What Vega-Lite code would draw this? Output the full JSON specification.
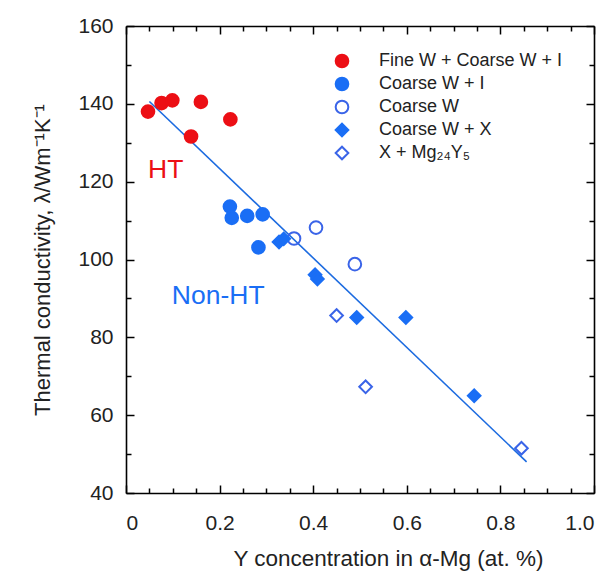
{
  "$schema": "https://vega.github.io/schema/vega-lite/v6.json",
  "autosize": {"type": "none"},
  "padding": {"left": 126, "top": 26, "right": 18, "bottom": 83},
  "width": 468,
  "height": 467,
  "background": "white",
  "config": {
    "view": {"stroke": null},
    "font": "Liberation Sans",
    "axis": {"grid": false, "labelFont": "Liberation Sans", "titleFont": "Liberation Sans", "labelFontSize": 21, "titleFontSize": 22.5, "labelColor": "#222", "titleColor": "#222", "titleFontWeight": "normal", "tickColor": "black", "domainColor": "black", "tickWidth": 1.5, "domainWidth": 1.6},
    "legend": {"labelFont": "Liberation Sans", "labelFontSize": 18, "labelColor": "#222", "labelLimit": 400}
  },
  "datasets": {
    "pts": [
      {"x": 0.047, "y": 138.0, "group": "Fine W + Coarse W + I"},
      {"x": 0.076, "y": 140.2, "group": "Fine W + Coarse W + I"},
      {"x": 0.099, "y": 140.9, "group": "Fine W + Coarse W + I"},
      {"x": 0.160, "y": 140.5, "group": "Fine W + Coarse W + I"},
      {"x": 0.139, "y": 131.6, "group": "Fine W + Coarse W + I"},
      {"x": 0.223, "y": 136.0, "group": "Fine W + Coarse W + I"},
      {"x": 0.222, "y": 113.6, "group": "Coarse W + I"},
      {"x": 0.226, "y": 110.7, "group": "Coarse W + I"},
      {"x": 0.259, "y": 111.2, "group": "Coarse W + I"},
      {"x": 0.292, "y": 111.6, "group": "Coarse W + I"},
      {"x": 0.283, "y": 103.1, "group": "Coarse W + I"},
      {"x": 0.359, "y": 105.4, "group": "Coarse W"},
      {"x": 0.406, "y": 108.2, "group": "Coarse W"},
      {"x": 0.489, "y": 98.8, "group": "Coarse W"},
      {"x": 0.327, "y": 104.5, "group": "Coarse W + X"},
      {"x": 0.337, "y": 105.3, "group": "Coarse W + X"},
      {"x": 0.404, "y": 96.1, "group": "Coarse W + X"},
      {"x": 0.409, "y": 95.0, "group": "Coarse W + X"},
      {"x": 0.493, "y": 85.1, "group": "Coarse W + X"},
      {"x": 0.598, "y": 85.1, "group": "Coarse W + X"},
      {"x": 0.744, "y": 65.0, "group": "Coarse W + X"},
      {"x": 0.450, "y": 85.6, "group": "X + Mg₂₄Y₅"},
      {"x": 0.512, "y": 67.3, "group": "X + Mg₂₄Y₅"},
      {"x": 0.845, "y": 51.5, "group": "X + Mg₂₄Y₅"}
    ],
    "fit": [
      {"x": 0.05, "y": 140.6},
      {"x": 0.856, "y": 48.0}
    ],
    "labels": [
      {"x": 0.047, "y": 123, "text": "HT", "kind": "HT"},
      {"x": 0.098, "y": 90.6, "text": "Non-HT", "kind": "Non-HT"}
    ]
  },
  "resolve": {"axis": {"x": "independent", "y": "independent"}},
  "layer": [
    {
      "data": {"name": "fit"},
      "mark": {"type": "line", "color": "#1c6be0", "strokeWidth": 1.6},
      "encoding": {
        "x": {"field": "x", "type": "quantitative", "scale": {"domain": [0, 1], "nice": false, "zero": false},
          "axis": {"orient": "bottom", "values": [0, 0.2, 0.4, 0.6, 0.8, 1.0], "labelExpr": "datum.value == 0 ? '0' : format(datum.value, '.1f')", "tickSize": -8, "labelPadding": 27, "title": "Y concentration in α-Mg (at. %)", "titlePadding": 14, "titleX": 262, "titleAlign": "center"}},
        "y": {"field": "y", "type": "quantitative", "scale": {"domain": [40, 160], "nice": false, "zero": false},
          "axis": {"orient": "left", "values": [40, 60, 80, 100, 120, 140, 160], "tickSize": -8, "labelPadding": 21, "title": "Thermal conductivity, λ/Wm⁻¹K⁻¹", "titleFontSize": 22, "titlePadding": 23}}
      }
    },
    {
      "data": {"name": "pts"},
      "mark": {"type": "point", "strokeWidth": 2, "opacity": 1},
      "encoding": {
        "x": {"field": "x", "type": "quantitative", "scale": {"domain": [0, 1], "nice": false, "zero": false},
          "axis": {"orient": "top", "values": [0, 0.2, 0.4, 0.6, 0.8, 1.0], "labels": false, "tickSize": -8, "title": null}},
        "y": {"field": "y", "type": "quantitative", "scale": {"domain": [40, 160], "nice": false, "zero": false},
          "axis": {"orient": "right", "values": [40, 60, 80, 100, 120, 140, 160], "labels": false, "tickSize": -8, "title": null}},
        "shape": {"field": "group", "type": "nominal", "sort": null,
          "scale": {"domain": ["Fine W + Coarse W + I", "Coarse W + I", "Coarse W", "Coarse W + X", "X + Mg₂₄Y₅"], "range": ["circle", "circle", "circle", "diamond", "diamond"]},
          "legend": {"title": null, "orient": "none", "legendX": 207, "legendY": 26, "rowPadding": 1, "labelOffset": 28, "symbolStrokeWidth": 2}},
        "fill": {"field": "group", "type": "nominal", "sort": null,
          "scale": {"domain": ["Fine W + Coarse W + I", "Coarse W + I", "Coarse W", "Coarse W + X", "X + Mg₂₄Y₅"], "range": ["#ec0f15", "#1a6ef5", "transparent", "#1a6ef5", "transparent"]},
          "legend": {"title": null, "orient": "none", "legendX": 207, "legendY": 26, "rowPadding": 1, "labelOffset": 28, "symbolStrokeWidth": 2}},
        "stroke": {"field": "group", "type": "nominal", "sort": null,
          "scale": {"domain": ["Fine W + Coarse W + I", "Coarse W + I", "Coarse W", "Coarse W + X", "X + Mg₂₄Y₅"], "range": ["#ec0f15", "#1a6ef5", "#3a64e8", "#1a6ef5", "#3a64e8"]},
          "legend": {"title": null, "orient": "none", "legendX": 207, "legendY": 26, "rowPadding": 1, "labelOffset": 28, "symbolStrokeWidth": 2}},
        "size": {"field": "group", "type": "nominal", "sort": null,
          "scale": {"domain": ["Fine W + Coarse W + I", "Coarse W + I", "Coarse W", "Coarse W + X", "X + Mg₂₄Y₅"], "range": [160, 160, 115, 200, 190]},
          "legend": {"title": null, "orient": "none", "legendX": 207, "legendY": 26, "rowPadding": 1, "labelOffset": 28, "symbolStrokeWidth": 2}}
      }
    },
    {
      "data": {"name": "labels"},
      "transform": [{"filter": "datum.kind == 'HT'"}],
      "mark": {"type": "text", "align": "left", "baseline": "middle", "fontSize": 26.5, "color": "#ec0f15", "font": "Liberation Sans"},
      "encoding": {
        "x": {"field": "x", "type": "quantitative", "scale": {"domain": [0, 1], "nice": false, "zero": false},
          "axis": {"orient": "bottom", "values": [0.05, 0.1, 0.15, 0.25, 0.3, 0.35, 0.45, 0.5, 0.55, 0.65, 0.7, 0.75, 0.85, 0.9, 0.95], "labels": false, "tickSize": -5, "domain": false, "title": null}},
        "y": {"field": "y", "type": "quantitative", "scale": {"domain": [40, 160], "nice": false, "zero": false},
          "axis": {"orient": "left", "values": [50, 70, 90, 110, 130, 150], "labels": false, "tickSize": -5, "domain": false, "title": null}},
        "text": {"field": "text"}
      }
    },
    {
      "data": {"name": "labels"},
      "transform": [{"filter": "datum.kind == 'Non-HT'"}],
      "mark": {"type": "text", "align": "left", "baseline": "middle", "fontSize": 26.5, "color": "#1a6ef5", "font": "Liberation Sans"},
      "encoding": {
        "x": {"field": "x", "type": "quantitative", "scale": {"domain": [0, 1], "nice": false, "zero": false},
          "axis": {"orient": "top", "values": [0.05, 0.1, 0.15, 0.25, 0.3, 0.35, 0.45, 0.5, 0.55, 0.65, 0.7, 0.75, 0.85, 0.9, 0.95], "labels": false, "tickSize": -5, "domain": false, "title": null}},
        "y": {"field": "y", "type": "quantitative", "scale": {"domain": [40, 160], "nice": false, "zero": false},
          "axis": {"orient": "right", "values": [50, 70, 90, 110, 130, 150], "labels": false, "tickSize": -5, "domain": false, "title": null}},
        "text": {"field": "text"}
      }
    }
  ]
}
